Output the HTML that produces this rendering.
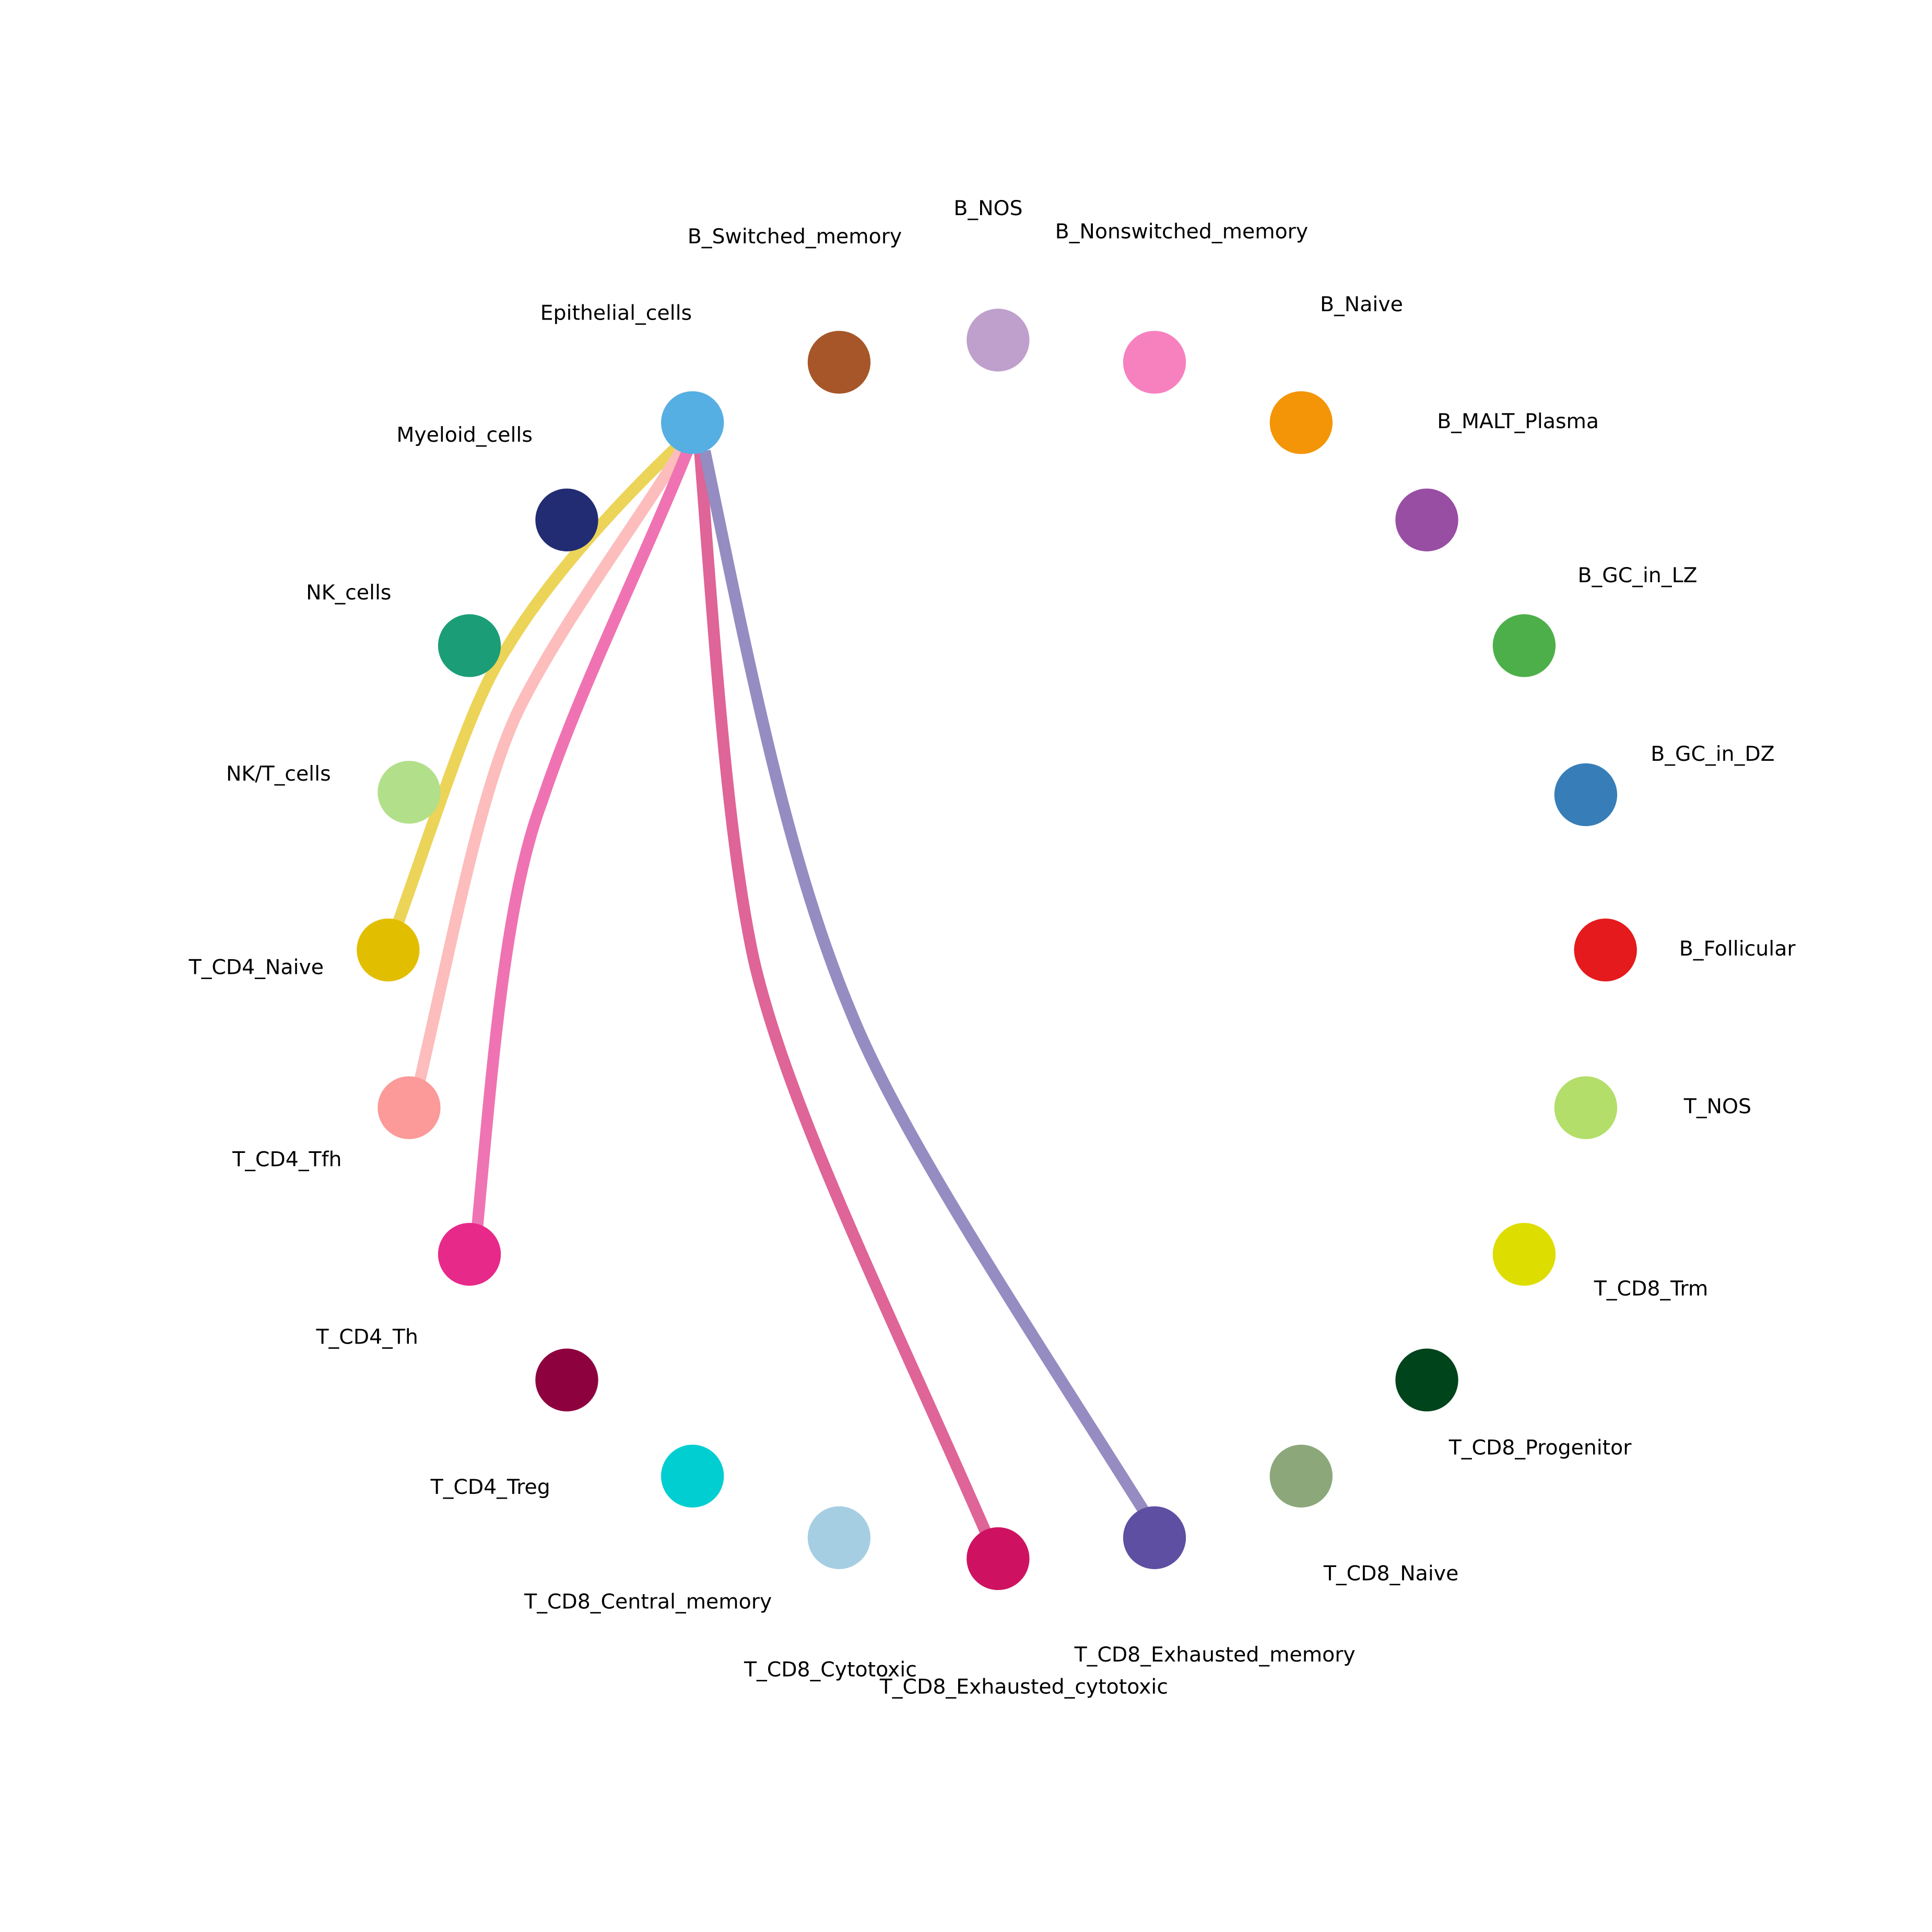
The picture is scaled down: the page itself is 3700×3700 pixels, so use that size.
<!DOCTYPE html>
<html><head><meta charset="utf-8"><style>html,body{margin:0;padding:0;background:#fff}svg{display:block}</style></head>
<body>
<svg width="3700" height="3700" viewBox="0 0 1568 1568" xmlns="http://www.w3.org/2000/svg">
<rect width="1568" height="1568" fill="#fff"/>
<g fill="none" stroke-width="9.5" stroke-linecap="butt" opacity="0.65">
<path d="M322,752 C365,630 385,565 412,525 C448,465 510,400 549,363" stroke="#E2BE00"/>
<path d="M340,880 C370,750 392,630 425,568 C460,500 520,420 553,365" stroke="#FB9A99"/>
<path d="M387,1000 C400,860 410,730 440,650 C470,560 520,460 558,366" stroke="#E7298A"/>
<path d="M802,1248 C720,1060 640,900 612,780 C590,680 580,520 568,366" stroke="#CE1261"/>
<path d="M932,1232 C830,1070 730,920 690,820 C640,700 610,550 572,366" stroke="#5E4FA2"/>
</g>
<g>
<circle cx="562" cy="343" r="25.5" fill="#56AFE2"/>
<circle cx="681" cy="294" r="25.5" fill="#A65628"/>
<circle cx="810" cy="276" r="25.5" fill="#BFA0CD"/>
<circle cx="937" cy="294" r="25.5" fill="#F781BF"/>
<circle cx="1056" cy="343" r="25.5" fill="#F39506"/>
<circle cx="1158" cy="422" r="25.5" fill="#984EA3"/>
<circle cx="1237" cy="524" r="25.5" fill="#4DAF4A"/>
<circle cx="1287" cy="645" r="25.5" fill="#377EB8"/>
<circle cx="1303" cy="771" r="25.5" fill="#E41A1C"/>
<circle cx="1287" cy="899" r="25.5" fill="#B3DE69"/>
<circle cx="1237" cy="1018" r="25.5" fill="#DDDD00"/>
<circle cx="1158" cy="1120" r="25.5" fill="#00441B"/>
<circle cx="1056" cy="1198" r="25.5" fill="#8CA87A"/>
<circle cx="937" cy="1248" r="25.5" fill="#5E4FA2"/>
<circle cx="810" cy="1265" r="25.5" fill="#CE1261"/>
<circle cx="681" cy="1248" r="25.5" fill="#A6CEE3"/>
<circle cx="562" cy="1198" r="25.5" fill="#00CED1"/>
<circle cx="460" cy="1120" r="25.5" fill="#8E013F"/>
<circle cx="381" cy="1018" r="25.5" fill="#E7298A"/>
<circle cx="332" cy="899" r="25.5" fill="#FB9A99"/>
<circle cx="315" cy="771" r="25.5" fill="#E2BE00"/>
<circle cx="332" cy="643" r="25.5" fill="#B2DF8A"/>
<circle cx="381" cy="524" r="25.5" fill="#1B9E77"/>
<circle cx="460" cy="422" r="25.5" fill="#222C73"/>
</g>
<g font-family="DejaVu Sans, Liberation Sans, sans-serif" font-size="16.7" fill="#000" text-anchor="middle" dominant-baseline="central">
<text x="500" y="254">Epithelial_cells</text>
<text x="645" y="192">B_Switched_memory</text>
<text x="802" y="169">B_NOS</text>
<text x="959" y="188">B_Nonswitched_memory</text>
<text x="1105" y="247">B_Naive</text>
<text x="1232" y="342">B_MALT_Plasma</text>
<text x="1329" y="467">B_GC_in_LZ</text>
<text x="1390" y="612">B_GC_in_DZ</text>
<text x="1410" y="770">B_Follicular</text>
<text x="1394" y="898">T_NOS</text>
<text x="1340" y="1046">T_CD8_Trm</text>
<text x="1250" y="1175">T_CD8_Progenitor</text>
<text x="1129" y="1277">T_CD8_Naive</text>
<text x="986" y="1343">T_CD8_Exhausted_memory</text>
<text x="831" y="1369">T_CD8_Exhausted_cytotoxic</text>
<text x="674" y="1355">T_CD8_Cytotoxic</text>
<text x="526" y="1300">T_CD8_Central_memory</text>
<text x="398" y="1207">T_CD4_Treg</text>
<text x="298" y="1085">T_CD4_Th</text>
<text x="233" y="941">T_CD4_Tfh</text>
<text x="208" y="785">T_CD4_Naive</text>
<text x="226" y="628">NK/T_cells</text>
<text x="283" y="481">NK_cells</text>
<text x="377" y="353">Myeloid_cells</text>
</g>
</svg>
</body></html>
